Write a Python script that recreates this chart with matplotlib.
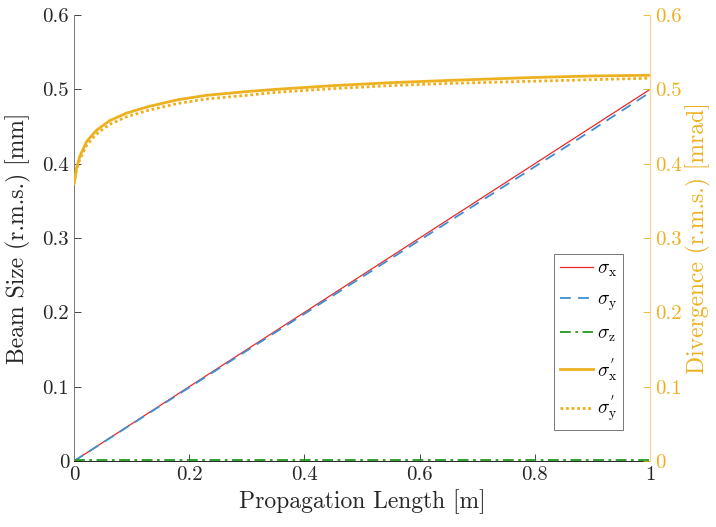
import numpy as np
import matplotlib
matplotlib.use('Agg')
import matplotlib.pyplot as plt

plt.rcParams['font.family'] = ['cmr10', 'DejaVu Serif']
plt.rcParams['mathtext.fontset'] = 'cm'
plt.rcParams['axes.formatter.use_mathtext'] = True

# beam size [mm] vs propagation length [m]
z_size = [0, 0.1, 0.2, 0.3, 0.4, 0.5, 0.6, 0.7, 0.8, 0.9, 1.0]
sigma_x = [0, 0.050, 0.100, 0.150, 0.200, 0.250, 0.300, 0.350, 0.400, 0.450, 0.500]
sigma_y = [0, 0.0495, 0.099, 0.1485, 0.198, 0.2475, 0.297, 0.3465, 0.396, 0.4455, 0.496]
sigma_z = [0.0015] * 11

# divergence [mrad]
z_div = [0, 0.004, 0.010, 0.022, 0.039, 0.062, 0.091, 0.13, 0.18, 0.23, 0.30,
         0.35, 0.45, 0.55, 0.65, 0.80, 0.90, 1.0]
div_x = [0.373, 0.393, 0.410, 0.430, 0.445, 0.458, 0.468, 0.477, 0.486, 0.492, 0.497,
         0.500, 0.505, 0.509, 0.512, 0.516, 0.518, 0.519]
div_y = [0.373, 0.391, 0.406, 0.425, 0.440, 0.453, 0.463, 0.472, 0.481, 0.487, 0.492,
         0.496, 0.501, 0.505, 0.508, 0.511, 0.513, 0.515]

gold = '#EDB120'
dark = '#262626'

fig = plt.figure(figsize=(7.16, 5.27), dpi=100)
ax = fig.add_axes([0.1034, 0.1252, 0.8045, 0.8463])
ax2 = ax.twinx()

l1, = ax.plot(z_size, sigma_x, color='#e8282c', lw=0.9, label=r'$\sigma_{\mathrm{x}}$')
l2, = ax.plot(z_size, sigma_y, color='#3d8fd1', lw=1.3, ls=(0, (6, 4)), label=r'$\sigma_{\mathrm{y}}$')
l3, = ax.plot(z_size, sigma_z, color='#1e9a1e', lw=1.3, ls=(0, (6, 2.5, 1.5, 2.5)), label=r'$\sigma_{\mathrm{z}}$')
l4, = ax2.plot(z_div, div_x, color=gold, lw=2.0, label=r"$\sigma_{\mathrm{x}}^{'}$")
l5, = ax2.plot(z_div, div_y, color=gold, lw=2.0, ls=(0, (1, 1.0)), label=r"$\sigma_{\mathrm{y}}^{'}$")

for a in (ax, ax2):
    a.set_xlim(0, 1)
    a.set_ylim(0, 0.6)
    a.spines['top'].set_visible(False)

ax.set_xticks([0, 0.2, 0.4, 0.6, 0.8, 1])
ax.set_xticklabels(['0', '0.2', '0.4', '0.6', '0.8', '1'])
yt = [0, 0.1, 0.2, 0.3, 0.4, 0.5, 0.6]
ytl = ['0', '0.1', '0.2', '0.3', '0.4', '0.5', '0.6']
ax.set_yticks(yt)
ax.set_yticklabels(ytl)
ax2.set_yticks(yt)
ax2.set_yticklabels(ytl)

ax.tick_params(direction='in', labelsize=15, colors=dark, length=5, width=0.6)
ax2.tick_params(direction='in', labelsize=15, colors=gold, length=5, width=0.6)
ax.spines['left'].set_color('#777777')
ax.spines['bottom'].set_color(dark)
ax.spines['right'].set_visible(False)
ax2.spines['left'].set_visible(False)
ax2.spines['bottom'].set_visible(False)
ax2.spines['right'].set_color('#f5d68a')
for s in ('left', 'bottom'):
    ax.spines[s].set_linewidth(0.7)
ax2.spines['right'].set_linewidth(0.9)

ax.set_xlabel('Propagation Length [m]', fontsize=17, color=dark, labelpad=4)
ax.set_ylabel('Beam Size (r.m.s.) [mm]', fontsize=17, color=dark, labelpad=8)
ax2.set_ylabel('Divergence (r.m.s.) [mrad]', fontsize=17, color=gold, labelpad=3)

leg = ax2.legend(handles=[l1, l2, l3, l4, l5], loc='lower right',
                 bbox_to_anchor=(0.953, 0.069), fontsize=14, frameon=True,
                 fancybox=False, edgecolor='#555555', handlelength=1.7,
                 handletextpad=0.2, borderpad=0.3, labelspacing=0.6, borderaxespad=0)
leg.get_frame().set_linewidth(0.7)

fig.savefig('out.png', dpi=100)
